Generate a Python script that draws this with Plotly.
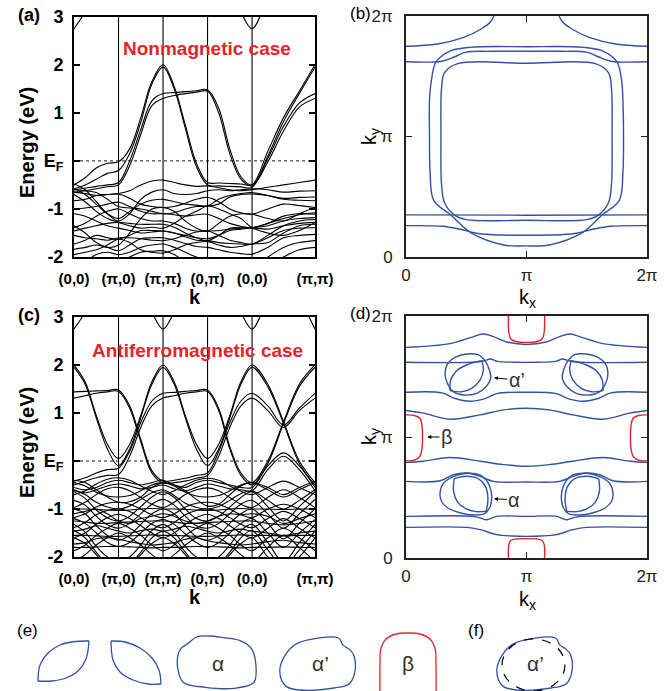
import plotly.graph_objects as go

W, H = 669, 691
FONT = "Liberation Sans, Arial, Helvetica, sans-serif"
BLUE = "#3252a6"
RED = "#e3242b"

# ---------------- band structure path ----------------
K_NODES = [0, 0.25, 0.5, 0.75, 1, 1.25, 1.5, 1.75, 2, 2.25, 2.5, 2.75, 3,
           3.25, 3.5, 3.75, 4, 4.354, 4.707, 5.061, 5.414]
K_TICKS = [0, 1, 2, 3, 4, 5.414]
K_LABELS = ["(0,0)", "(π,0)", "(π,π)", "(0,π)", "(0,0)", "(π,π)"]
E_TICKS = [-2, -1, 0, 1, 2, 3]
E_LABELS = ["-2", "-1", "E<sub>F</sub>", "1", "2", "3"]

# ---------------- (a) nonmagnetic bands ----------------
BANDS_A_TOP = [2.75, 3.1, 3.6, 4.0, 4.5, 4.5, 4.5, 4.5, 4.5, 4.5, 4.5, 4.5, 4.5,
               4.0, 3.6, 3.1, 2.75, 3.4, 4.0, 4.5, 4.5]
BANDS_A_UPPER = [
    [-0.5, -0.35, -0.15, -0.05, -0.02, 0.25, 0.9, 1.65, 2.0, 1.55, 0.75, -0.05, -0.45, -0.46, -0.47, -0.48, -0.5, 0.2, 0.9, 1.45, 2.0],
    [-0.58, -0.5, -0.38, -0.26, -0.2, 0.15, 0.8, 1.6, 1.95, 1.5, 0.68, -0.12, -0.5, -0.52, -0.53, -0.54, -0.55, 0.1, 0.82, 1.4, 1.95],
    [-0.6, -0.57, -0.53, -0.5, -0.45, 0.0, 0.65, 1.25, 1.4, 1.42, 1.44, 1.46, 1.48, 1.1, 0.25, -0.33, -0.5, 0.05, 0.72, 1.2, 1.4],
    [-0.65, -0.62, -0.58, -0.54, -0.5, -0.1, 0.55, 1.15, 1.3, 1.36, 1.4, 1.43, 1.45, 1.0, 0.15, -0.38, -0.52, -0.02, 0.62, 1.12, 1.3],
]
BANDS_A_LOWER = [
    [-0.65, -0.68, -0.72, -0.7, -0.68, -0.62, -0.5, -0.42, -0.4, -0.45, -0.5, -0.53, -0.52, -0.56, -0.6, -0.62, -0.6, -0.55, -0.5, -0.45, -0.4],
    [-0.48, -0.6, -0.85, -1.1, -1.25, -1.1, -0.8, -0.65, -0.6, -0.68, -0.7, -0.68, -0.62, -0.6, -0.62, -0.6, -0.58, -0.6, -0.65, -0.63, -0.62],
    [-0.58, -0.7, -0.9, -1.1, -1.2, -1.05, -0.9, -0.82, -0.8, -0.85, -0.9, -0.92, -0.94, -0.9, -0.75, -0.7, -0.69, -0.72, -0.8, -0.82, -0.83],
    [-0.83, -0.8, -0.72, -0.7, -0.69, -0.78, -0.9, -0.95, -0.97, -0.95, -0.88, -0.8, -0.76, -0.85, -1.0, -1.08, -1.11, -1.0, -0.9, -0.93, -0.97],
    [-1.0, -0.98, -0.95, -0.9, -0.86, -0.95, -1.05, -1.1, -1.1, -1.12, -1.15, -1.12, -1.11, -1.2, -1.3, -1.36, -1.39, -1.3, -1.15, -1.1, -1.11],
    [-1.39, -1.3, -1.15, -1.05, -1.0, -1.1, -1.2, -1.25, -1.25, -1.3, -1.4, -1.46, -1.46, -1.45, -1.42, -1.4, -1.39, -1.35, -1.25, -1.2, -1.18],
    [-1.46, -1.4, -1.35, -1.3, -1.28, -1.3, -1.32, -1.32, -1.32, -1.38, -1.5, -1.6, -1.66, -1.55, -1.4, -1.38, -1.39, -1.42, -1.35, -1.3, -1.28],
    [-1.73, -1.65, -1.55, -1.6, -1.63, -1.55, -1.45, -1.45, -1.46, -1.5, -1.58, -1.65, -1.66, -1.7, -1.72, -1.73, -1.73, -1.6, -1.45, -1.4, -1.39],
    [-1.84, -1.8, -1.75, -1.8, -1.87, -1.75, -1.62, -1.6, -1.6, -1.65, -1.72, -1.78, -1.8, -1.85, -1.9, -1.93, -1.94, -1.8, -1.6, -1.55, -1.53],
    [-2.2, -2.1, -1.95, -1.9, -1.95, -1.9, -1.8, -1.75, -1.73, -1.8, -1.9, -2.0, -2.05, -2.1, -2.15, -2.2, -2.2, -2.0, -1.8, -1.7, -1.66],
    [-2.4, -2.3, -2.2, -2.15, -2.1, -2.0, -1.9, -1.88, -1.87, -1.95, -2.1, -2.2, -2.3, -2.3, -2.3, -2.3, -2.3, -2.2, -2.0, -1.85, -1.8],
    [-1.35, -1.5, -1.7, -1.8, -1.75, -1.5, -1.2, -1.0, -0.97, -1.05, -1.25, -1.4, -1.46, -1.3, -1.15, -1.1, -1.11, -1.2, -1.25, -1.1, -0.97],
    [-0.7, -0.85, -1.05, -1.2, -1.28, -1.35, -1.4, -1.38, -1.4, -1.3, -1.15, -1.05, -0.94, -1.0, -1.1, -1.2, -1.39, -1.5, -1.55, -1.45, -1.28],
    [-1.1, -1.15, -1.25, -1.35, -1.4, -1.45, -1.5, -1.48, -1.46, -1.5, -1.55, -1.6, -1.62, -1.55, -1.45, -1.42, -1.39, -1.3, -1.2, -1.12, -1.08],
    [-1.55, -1.6, -1.62, -1.65, -1.6, -1.6, -1.62, -1.65, -1.66, -1.62, -1.55, -1.48, -1.46, -1.55, -1.65, -1.7, -1.73, -1.55, -1.35, -1.25, -1.22],
    [-0.6, -0.62, -0.66, -0.8, -0.95, -0.98, -1.0, -1.05, -1.1, -1.08, -1.0, -0.95, -0.94, -0.8, -0.72, -0.68, -0.66, -0.72, -0.78, -0.76, -0.75],
    [-1.95, -1.9, -1.85, -1.75, -1.63, -1.7, -1.85, -1.9, -1.92, -1.85, -1.75, -1.7, -1.68, -1.75, -1.8, -1.78, -1.73, -1.7, -1.5, -1.35, -1.32],
]

# ---------------- (c) antiferromagnetic bands ----------------
BANDS_C_TOP = [2.75, 3.1, 3.6, 4.0, 4.5, 4.0, 3.6, 3.1, 2.75, 3.1, 3.6, 4.0, 4.5,
               4.0, 3.6, 3.1, 2.75, 3.4, 4.0, 3.4, 2.75]
BANDS_C_UPPER = [
    [2.0, 1.65, 0.95, 0.35, 0.05, 0.35, 0.95, 1.65, 2.0, 1.65, 0.95, 0.35, 0.05, 0.35, 0.95, 1.65, 2.0, 1.6, 0.82, 0.0, -0.45],
    [1.95, 1.6, 0.9, 0.25, -0.1, 0.25, 0.9, 1.6, 1.95, 1.6, 0.9, 0.25, -0.1, 0.25, 0.9, 1.6, 1.95, 1.55, 0.78, -0.05, -0.5],
    [1.44, 1.45, 1.46, 1.47, 1.48, 1.15, 0.45, -0.2, -0.42, -0.4, -0.36, -0.3, -0.25, 0.2, 0.8, 1.25, 1.41, 1.15, 0.75, 1.1, 1.41],
    [1.31, 1.36, 1.41, 1.44, 1.45, 1.1, 0.4, -0.25, -0.46, -0.45, -0.42, -0.36, -0.3, 0.1, 0.7, 1.15, 1.31, 1.05, 0.7, 1.05, 1.31],
    [-0.42, -0.35, -0.25, -0.18, -0.15, 0.2, 0.8, 1.25, 1.41, 1.43, 1.45, 1.47, 1.48, 1.1, 0.3, -0.25, -0.45, 0.0, 0.82, 1.6, 2.0],
    [-0.5, -0.42, -0.35, -0.3, -0.28, 0.1, 0.7, 1.15, 1.31, 1.36, 1.41, 1.44, 1.45, 1.05, 0.25, -0.3, -0.5, -0.05, 0.78, 1.55, 1.95],
    [-0.55, -0.6, -0.55, -0.45, -0.4, -0.45, -0.5, -0.45, -0.4, -0.5, -0.55, -0.45, -0.4, -0.45, -0.5, -0.55, -0.55, -0.1, 0.17, -0.1, -0.55],
    [-0.62, -0.66, -0.6, -0.52, -0.48, -0.52, -0.58, -0.55, -0.5, -0.58, -0.62, -0.55, -0.48, -0.52, -0.58, -0.6, -0.62, -0.18, 0.1, -0.18, -0.62],
]
BANDS_C_LOWER = [
    [-0.45, -0.52, -0.65, -0.73, -0.75, -0.72, -0.62, -0.5, -0.45, -0.52, -0.65, -0.73, -0.75, -0.72, -0.62, -0.5, -0.45, -0.6, -0.75, -0.6, -0.45],
    [-0.6, -0.7, -0.86, -0.96, -1.0, -0.94, -0.8, -0.66, -0.6, -0.72, -0.88, -0.97, -1.0, -0.95, -0.82, -0.68, -0.62, -0.82, -1.0, -0.82, -0.6],
    [-0.64, -0.78, -1.02, -1.18, -1.25, -1.15, -0.95, -0.75, -0.64, -0.76, -1.0, -1.2, -1.25, -1.15, -0.96, -0.76, -0.64, -0.95, -1.25, -0.95, -0.64],
    [-0.82, -0.92, -1.15, -1.33, -1.4, -1.3, -1.1, -0.9, -0.8, -0.92, -1.15, -1.35, -1.4, -1.3, -1.1, -0.9, -0.82, -1.1, -1.4, -1.1, -0.8],
    [-1.0, -1.1, -1.35, -1.55, -1.65, -1.55, -1.32, -1.1, -1.0, -1.1, -1.35, -1.58, -1.65, -1.55, -1.3, -1.1, -1.0, -1.3, -1.62, -1.3, -1.0],
    [-1.2, -1.3, -1.5, -1.7, -1.78, -1.7, -1.5, -1.3, -1.22, -1.32, -1.52, -1.7, -1.8, -1.7, -1.5, -1.3, -1.2, -1.5, -1.8, -1.5, -1.22],
    [-1.32, -1.48, -1.78, -2.0, -2.1, -2.0, -1.75, -1.45, -1.32, -1.48, -1.78, -2.0, -2.1, -2.0, -1.75, -1.45, -1.32, -1.7, -2.1, -1.7, -1.32],
    [-1.45, -1.6, -1.9, -2.15, -2.25, -2.15, -1.9, -1.6, -1.46, -1.6, -1.9, -2.15, -2.25, -2.15, -1.9, -1.6, -1.45, -1.85, -2.2, -1.85, -1.46],
    [-1.6, -1.72, -1.95, -2.2, -2.3, -2.2, -1.95, -1.72, -1.6, -1.72, -1.95, -2.2, -2.3, -2.2, -1.95, -1.72, -1.6, -2.0, -2.3, -2.0, -1.6],
    [-0.7, -0.62, -0.48, -0.38, -0.35, -0.4, -0.52, -0.63, -0.7, -0.62, -0.5, -0.4, -0.36, -0.4, -0.52, -0.63, -0.7, -0.55, -0.42, -0.55, -0.7],
    [-0.97, -0.86, -0.7, -0.58, -0.55, -0.62, -0.76, -0.9, -0.97, -0.86, -0.7, -0.6, -0.56, -0.62, -0.76, -0.9, -0.97, -0.76, -0.6, -0.76, -0.97],
    [-1.18, -1.1, -0.96, -0.88, -0.86, -0.9, -1.0, -1.12, -1.18, -1.1, -0.96, -0.88, -0.86, -0.9, -1.0, -1.12, -1.18, -1.0, -0.9, -1.0, -1.18],
    [-1.39, -1.28, -1.12, -1.03, -1.0, -1.05, -1.18, -1.32, -1.39, -1.28, -1.12, -1.03, -1.0, -1.05, -1.18, -1.32, -1.39, -1.2, -1.05, -1.2, -1.39],
    [-1.6, -1.5, -1.32, -1.18, -1.11, -1.2, -1.35, -1.5, -1.6, -1.5, -1.32, -1.18, -1.11, -1.2, -1.35, -1.5, -1.6, -1.4, -1.2, -1.4, -1.6],
    [-1.87, -1.75, -1.55, -1.4, -1.3, -1.4, -1.55, -1.75, -1.87, -1.75, -1.55, -1.4, -1.3, -1.4, -1.55, -1.75, -1.87, -1.6, -1.4, -1.6, -1.87],
    [-2.1, -1.95, -1.75, -1.6, -1.5, -1.6, -1.75, -1.95, -2.1, -1.95, -1.75, -1.6, -1.5, -1.6, -1.75, -1.95, -2.1, -1.8, -1.55, -1.8, -2.1],
    [-1.0, -1.0, -1.01, -1.02, -1.03, -1.02, -1.0, -0.99, -1.0, -1.0, -1.01, -1.02, -1.03, -1.02, -1.0, -0.99, -1.0, -1.0, -1.01, -1.0, -1.0],
    [-1.55, -1.55, -1.56, -1.57, -1.57, -1.56, -1.55, -1.54, -1.55, -1.55, -1.56, -1.57, -1.57, -1.56, -1.55, -1.54, -1.55, -1.55, -1.56, -1.55, -1.55],
    [-1.8, -1.8, -1.79, -1.78, -1.78, -1.79, -1.8, -1.81, -1.8, -1.8, -1.79, -1.78, -1.78, -1.79, -1.8, -1.81, -1.8, -1.8, -1.79, -1.8, -1.8],
    [-1.25, -1.27, -1.3, -1.3, -1.28, -1.27, -1.26, -1.25, -1.25, -1.27, -1.3, -1.3, -1.28, -1.27, -1.26, -1.25, -1.25, -1.3, -1.33, -1.3, -1.25],
    [-0.4, -0.45, -0.6, -0.75, -0.86, -0.85, -0.75, -0.55, -0.45, -0.5, -0.62, -0.8, -0.94, -0.9, -0.7, -0.52, -0.45, -0.55, -0.7, -0.55, -0.42],
    [-1.1, -1.05, -1.0, -1.1, -1.25, -1.3, -1.2, -1.15, -1.1, -1.15, -1.25, -1.3, -1.25, -1.15, -1.1, -1.12, -1.1, -1.15, -1.3, -1.2, -1.1],
    [-1.46, -1.42, -1.35, -1.4, -1.46, -1.5, -1.45, -1.42, -1.46, -1.42, -1.36, -1.4, -1.46, -1.5, -1.45, -1.42, -1.46, -1.5, -1.55, -1.5, -1.46],
    [-1.73, -1.7, -1.62, -1.6, -1.63, -1.68, -1.72, -1.75, -1.73, -1.7, -1.63, -1.6, -1.66, -1.7, -1.73, -1.75, -1.73, -1.68, -1.65, -1.7, -1.73],
]

# ---------------- (b) nonmagnetic Fermi surface (units of pi) ----------------
FS_B_OUTER_X = [1.0, 1.19, 1.46, 1.63, 1.77, 1.80, 1.805, 1.80, 1.79, 1.75, 1.63, 1.47, 1.0, 0.53, 0.37, 0.25, 0.21, 0.195, 0.195, 0.20, 0.23, 0.37, 0.54, 0.81, 1.0]
FS_B_OUTER_Y = [0.092, 0.10, 0.20, 0.35, 0.47, 0.70, 1.0, 1.30, 1.46, 1.62, 1.71, 1.74, 1.745, 1.74, 1.71, 1.62, 1.46, 1.30, 1.0, 0.70, 0.47, 0.35, 0.20, 0.10, 0.092]
FS_B_INNER_X = [1.0, 1.5, 1.6, 1.68, 1.705, 1.71, 1.705, 1.68, 1.57, 1.0, 0.43, 0.32, 0.295, 0.29, 0.295, 0.32, 0.40, 0.5, 1.0]
FS_B_INNER_Y = [0.305, 0.31, 0.35, 0.45, 0.60, 1.0, 1.40, 1.53, 1.605, 1.608, 1.605, 1.53, 1.40, 1.0, 0.60, 0.45, 0.35, 0.31, 0.305]
FS_B_L2_X = [0, 0.3, 0.4, 0.5, 0.7, 1.0, 1.3, 1.5, 1.6, 1.7, 2.0]
FS_B_L2_Y = [1.62, 1.625, 1.66, 1.70, 1.707, 1.707, 1.707, 1.70, 1.66, 1.625, 1.62]
FS_B_ARC_L_X = [0, 0.26, 0.48, 0.62, 0.70, 0.73]
FS_B_ARC_L_Y = [1.749, 1.768, 1.823, 1.89, 1.95, 2.0]
FS_B_ARC_R_X = [2.0, 1.74, 1.52, 1.38, 1.30, 1.27]
FS_B_ARC_R_Y = [1.749, 1.768, 1.823, 1.89, 1.95, 2.0]
FS_B_L3_X = [0, 0.3, 0.45, 0.6, 0.8, 1.0, 1.2, 1.4, 1.55, 1.7, 2.0]
FS_B_L3_Y = [0.26, 0.255, 0.23, 0.195, 0.182, 0.18, 0.182, 0.195, 0.23, 0.255, 0.26]
FS_B_L4_X = [0, 1.0, 2.0]
FS_B_L4_Y = [0.35, 0.347, 0.35]

# ---------------- (d) antiferromagnetic Fermi surface (units of pi) ----------------
FS_D_B1_X = [0, 0.366, 0.56, 0.643, 0.726, 0.837, 1.0, 1.163, 1.274, 1.357, 1.44, 1.634, 2.0]
FS_D_B1_Y = [1.741, 1.772, 1.83, 1.851, 1.83, 1.785, 1.765, 1.785, 1.83, 1.851, 1.83, 1.772, 1.741]
FS_D_B2_X = [0, 0.55, 0.65, 0.70, 0.76, 0.9, 1.1, 1.24, 1.30, 1.35, 1.45, 2.0]
FS_D_B2_Y = [1.618, 1.618, 1.63, 1.645, 1.625, 1.618, 1.618, 1.625, 1.645, 1.63, 1.618, 1.618]
FS_D_B3_X = [0, 0.30, 0.40, 0.53, 0.65, 0.76, 1.0, 1.24, 1.35, 1.47, 1.60, 1.70, 2.0]
FS_D_B3_Y = [1.37, 1.365, 1.32, 1.295, 1.315, 1.36, 1.37, 1.36, 1.315, 1.295, 1.32, 1.365, 1.37]
FS_D_B4_X = [0, 0.144, 0.366, 0.615, 0.809, 1.0, 1.191, 1.385, 1.634, 1.856, 2.0]
FS_D_B4_Y = [1.219, 1.197, 1.147, 1.183, 1.224, 1.238, 1.224, 1.183, 1.147, 1.197, 1.219]
FS_D_B5_X = [0, 0.144, 0.366, 0.615, 0.809, 1.0, 1.191, 1.385, 1.634, 1.856, 2.0]
FS_D_B5_Y = [0.79, 0.80, 0.83, 0.80, 0.772, 0.758, 0.772, 0.80, 0.83, 0.80, 0.79]
FS_D_B6_X = [0, 0.283, 0.393, 0.504, 0.615, 0.726, 1.0, 1.274, 1.385, 1.496, 1.607, 1.717, 2.0]
FS_D_B6_Y = [0.633, 0.638, 0.688, 0.702, 0.674, 0.633, 0.628, 0.633, 0.674, 0.702, 0.688, 0.638, 0.633]
FS_D_B7_X = [0, 0.55, 0.62, 0.67, 0.75, 1.0, 1.25, 1.33, 1.38, 1.45, 2.0]
FS_D_B7_Y = [0.344, 0.344, 0.33, 0.316, 0.344, 0.344, 0.344, 0.316, 0.33, 0.344, 0.344]
FS_D_B8_X = [0, 0.504, 0.615, 0.753, 0.88, 1.0, 1.12, 1.247, 1.385, 1.496, 2.0]
FS_D_B8_Y = [0.253, 0.253, 0.234, 0.193, 0.182, 0.179, 0.182, 0.193, 0.234, 0.253, 0.253]

FS_D_RTOP_X = [0.85, 0.853, 0.87, 0.92, 1.0, 1.08, 1.13, 1.147, 1.15]
FS_D_RTOP_Y = [2.0, 1.87, 1.81, 1.787, 1.782, 1.787, 1.81, 1.87, 2.0]
FS_D_RBOT_X = [0.85, 0.853, 0.87, 0.92, 1.0, 1.08, 1.13, 1.147, 1.15]
FS_D_RBOT_Y = [0.0, 0.11, 0.145, 0.157, 0.16, 0.157, 0.145, 0.11, 0.0]
FS_D_RLEFT_X = [0, 0.07, 0.115, 0.133, 0.137, 0.133, 0.115, 0.07, 0]
FS_D_RLEFT_Y = [1.183, 1.178, 1.155, 1.09, 1.0, 0.91, 0.84, 0.808, 0.803]
FS_D_RRIGHT_X = [2.0, 1.93, 1.885, 1.867, 1.863, 1.867, 1.885, 1.93, 2.0]
FS_D_RRIGHT_Y = [1.183, 1.178, 1.155, 1.09, 1.0, 0.91, 0.84, 0.808, 0.803]

# alpha' pockets (upper)
FS_D_AP_L_BLOB_X = [0.324, 0.343, 0.407, 0.503, 0.60, 0.656, 0.692, 0.703, 0.664, 0.587, 0.476, 0.393, 0.343, 0.324]
FS_D_AP_L_BLOB_Y = [1.526, 1.603, 1.658, 1.686, 1.680, 1.631, 1.554, 1.485, 1.416, 1.361, 1.347, 1.374, 1.444, 1.526]
FS_D_AP_L_LENS1_X = [0.365, 0.371, 0.42, 0.503, 0.628]
FS_D_AP_L_LENS1_Y = [1.383, 1.471, 1.548, 1.595, 1.631]
FS_D_AP_L_LENS2_X = [0.365, 0.462, 0.545, 0.614, 0.642, 0.628]
FS_D_AP_L_LENS2_Y = [1.383, 1.374, 1.402, 1.471, 1.554, 1.631]
FS_D_AP_R_BLOB_X = [1.676, 1.657, 1.593, 1.497, 1.40, 1.344, 1.308, 1.297, 1.336, 1.413, 1.524, 1.607, 1.657, 1.676]
FS_D_AP_R_BLOB_Y = [1.526, 1.603, 1.658, 1.686, 1.680, 1.631, 1.554, 1.485, 1.416, 1.361, 1.347, 1.374, 1.444, 1.526]
FS_D_AP_R_LENS1_X = [1.635, 1.629, 1.58, 1.497, 1.372]
FS_D_AP_R_LENS1_Y = [1.383, 1.471, 1.548, 1.595, 1.631]
FS_D_AP_R_LENS2_X = [1.635, 1.538, 1.455, 1.386, 1.358, 1.372]
FS_D_AP_R_LENS2_Y = [1.383, 1.374, 1.402, 1.471, 1.554, 1.631]

# alpha pockets (lower)
FS_D_A_L_BLOB_X = [0.282, 0.31, 0.393, 0.503, 0.614, 0.683, 0.711, 0.697, 0.656, 0.559, 0.448, 0.351, 0.296, 0.282]
FS_D_A_L_BLOB_Y = [0.535, 0.617, 0.672, 0.70, 0.686, 0.617, 0.507, 0.424, 0.369, 0.355, 0.374, 0.411, 0.465, 0.535]
FS_D_A_L_LENS1_X = [0.40, 0.50, 0.60, 0.66, 0.68, 0.665]
FS_D_A_L_LENS1_Y = [0.655, 0.675, 0.655, 0.59, 0.49, 0.385]
FS_D_A_L_LENS2_X = [0.40, 0.395, 0.43, 0.50, 0.58, 0.665]
FS_D_A_L_LENS2_Y = [0.655, 0.55, 0.46, 0.405, 0.383, 0.385]
FS_D_A_R_BLOB_X = [1.718, 1.69, 1.607, 1.497, 1.386, 1.317, 1.289, 1.303, 1.344, 1.441, 1.552, 1.649, 1.704, 1.718]
FS_D_A_R_BLOB_Y = [0.535, 0.617, 0.672, 0.70, 0.686, 0.617, 0.507, 0.424, 0.369, 0.355, 0.374, 0.411, 0.465, 0.535]
FS_D_A_R_LENS1_X = [1.60, 1.50, 1.40, 1.34, 1.32, 1.335]
FS_D_A_R_LENS1_Y = [0.655, 0.675, 0.655, 0.59, 0.49, 0.385]
FS_D_A_R_LENS2_X = [1.60, 1.605, 1.57, 1.50, 1.42, 1.335]
FS_D_A_R_LENS2_Y = [0.655, 0.55, 0.46, 0.405, 0.383, 0.385]

# ---------------- (e), (f) isolated orbits (figure pixel frame) ----------------
E_LEAF1_A_X = [89, 75, 60, 48, 40, 38]
E_LEAF1_A_Y = [641, 641.5, 645, 653, 665, 681]
E_LEAF1_B_X = [38, 52, 66, 78, 86, 89]
E_LEAF1_B_Y = [681, 681, 678, 671, 659, 641]
E_LEAF2_A_X = [111, 125, 140, 152, 159, 161]
E_LEAF2_A_Y = [641, 642, 648, 658, 670, 684]
E_LEAF2_B_X = [161, 148, 133, 120, 113, 111]
E_LEAF2_B_Y = [684, 684, 680, 672, 660, 641]
E_ALPHA_X = [178, 181.1, 185.5, 189.9, 196.5, 209.7, 222.9, 240.6, 251.6, 256, 253.8, 234, 205.4, 183.3, 178, 178]
E_ALPHA_Y = [654.8, 648.3, 645.1, 641.9, 637, 636, 637.6, 640.8, 648.8, 666.5, 682.5, 688.3, 687.3, 682.5, 669.7, 654.8]
E_ALPHAP_X = [299.5, 338.5, 342.9, 349.4, 353.7, 355, 349.4, 334.2, 299.5, 286.5, 281.3, 280, 284.3, 290.8, 299.5]
E_ALPHAP_Y = [642.3, 638, 645.1, 649.4, 655.1, 670.9, 683.7, 688, 690, 686.6, 679.4, 668, 656.6, 648, 642.3]
E_BETA_X = [380, 380, 381, 386, 396, 408, 420, 430, 435, 436, 436]
E_BETA_Y = [700, 665, 648, 639, 634, 633, 634, 639, 648, 665, 700]
F_ALPHAP_X = [516.5, 555.5, 559.9, 566.4, 570.7, 572, 566.4, 551.2, 516.5, 503.5, 498.3, 497, 501.3, 507.8, 516.5]
F_ALPHAP_Y = [642.3, 638, 645.1, 649.4, 655.1, 670.9, 683.7, 688, 690, 686.6, 679.4, 668, 656.6, 648, 642.3]
F_CIRCLE_BOX = [502, 639, 565, 691]

fig = go.Figure()


def add_line(xs, ys, xa, ya, color="black", width=1.1, dash="solid"):
    fig.add_trace(go.Scatter(x=xs, y=ys, mode="lines", xaxis=xa, yaxis=ya,
                             line=dict(color=color, width=width, shape="spline", smoothing=1.0, dash=dash),
                             hoverinfo="skip", showlegend=False))


# band traces
for b in [BANDS_A_TOP] + BANDS_A_UPPER + BANDS_A_LOWER:
    add_line(K_NODES, b, "x", "y")
for b in [BANDS_C_TOP] + BANDS_C_UPPER + BANDS_C_LOWER:
    add_line(K_NODES, b, "x3", "y3")

# (b)
for xs, ys in [(FS_B_OUTER_X, FS_B_OUTER_Y), (FS_B_INNER_X, FS_B_INNER_Y), (FS_B_L2_X, FS_B_L2_Y),
               (FS_B_ARC_L_X, FS_B_ARC_L_Y), (FS_B_ARC_R_X, FS_B_ARC_R_Y), (FS_B_L3_X, FS_B_L3_Y),
               (FS_B_L4_X, FS_B_L4_Y)]:
    add_line(xs, ys, "x2", "y2", BLUE, 1.4)

# (d)
for xs, ys in [(FS_D_B1_X, FS_D_B1_Y), (FS_D_B2_X, FS_D_B2_Y), (FS_D_B3_X, FS_D_B3_Y), (FS_D_B4_X, FS_D_B4_Y),
               (FS_D_B5_X, FS_D_B5_Y), (FS_D_B6_X, FS_D_B6_Y), (FS_D_B7_X, FS_D_B7_Y), (FS_D_B8_X, FS_D_B8_Y),
               (FS_D_AP_L_BLOB_X, FS_D_AP_L_BLOB_Y), (FS_D_AP_L_LENS1_X, FS_D_AP_L_LENS1_Y),
               (FS_D_AP_L_LENS2_X, FS_D_AP_L_LENS2_Y), (FS_D_AP_R_BLOB_X, FS_D_AP_R_BLOB_Y),
               (FS_D_AP_R_LENS1_X, FS_D_AP_R_LENS1_Y), (FS_D_AP_R_LENS2_X, FS_D_AP_R_LENS2_Y),
               (FS_D_A_L_BLOB_X, FS_D_A_L_BLOB_Y), (FS_D_A_L_LENS1_X, FS_D_A_L_LENS1_Y),
               (FS_D_A_L_LENS2_X, FS_D_A_L_LENS2_Y), (FS_D_A_R_BLOB_X, FS_D_A_R_BLOB_Y),
               (FS_D_A_R_LENS1_X, FS_D_A_R_LENS1_Y), (FS_D_A_R_LENS2_X, FS_D_A_R_LENS2_Y)]:
    add_line(xs, ys, "x4", "y4", BLUE, 1.4)
for xs, ys in [(FS_D_RTOP_X, FS_D_RTOP_Y), (FS_D_RBOT_X, FS_D_RBOT_Y),
               (FS_D_RLEFT_X, FS_D_RLEFT_Y), (FS_D_RRIGHT_X, FS_D_RRIGHT_Y)]:
    add_line(xs, ys, "x4", "y4", RED, 1.4)

# (e), (f)
for xs, ys in [(E_LEAF1_A_X, E_LEAF1_A_Y), (E_LEAF1_B_X, E_LEAF1_B_Y), (E_LEAF2_A_X, E_LEAF2_A_Y),
               (E_LEAF2_B_X, E_LEAF2_B_Y), (E_ALPHA_X, E_ALPHA_Y), (E_ALPHAP_X, E_ALPHAP_Y),
               (F_ALPHAP_X, F_ALPHAP_Y)]:
    add_line(xs, ys, "x5", "y5", BLUE, 1.3)
add_line(E_BETA_X, E_BETA_Y, "x5", "y5", RED, 1.3)


def dom_x(p0, p1):
    return [p0 / W, p1 / W]


def dom_y(p_top, p_bot):
    return [1 - p_bot / H, 1 - p_top / H]


def band_xaxis(anchor):
    return dict(domain=dom_x(74, 315), range=[0, 5.414], tickmode="array", tickvals=K_TICKS,
                ticktext=["<b>%s</b>" % t for t in K_LABELS], ticks="", showgrid=False, zeroline=False,
                showline=True, linecolor="black", linewidth=2, mirror=True,
                tickfont=dict(size=15, family=FONT, color="black"), ticklabelstandoff=7, anchor=anchor)


def band_yaxis(dom, anchor):
    return dict(domain=dom, range=[-2, 3], tickmode="array", tickvals=E_TICKS,
                ticktext=["<b>%s</b>" % t for t in E_LABELS], ticks="inside", ticklen=6, tickwidth=1.5,
                tickcolor="black", mirror="ticks", showline=True, linecolor="black", linewidth=2,
                showgrid=False, zeroline=False, tickfont=dict(size=18, family=FONT, color="black"),
                ticklabelstandoff=5, anchor=anchor)


def fs_axis(dom, anchor, is_x):
    return dict(domain=dom, range=[0, 2], tickmode="array", tickvals=[0, 1, 2], ticktext=["0", "π", "2π"],
                ticks="inside", ticklen=6, tickwidth=1.2, tickcolor="#222", mirror="ticks", showline=True,
                linecolor="#222", linewidth=1.8, showgrid=False, zeroline=False,
                tickfont=dict(size=17, family=FONT, color="#222"), ticklabelstandoff=2 if is_x else 8,
                anchor=anchor)


fig.update_layout(
    width=W, height=H, margin=dict(l=0, r=0, t=0, b=0, pad=0, autoexpand=False),
    paper_bgcolor="white", plot_bgcolor="white", showlegend=False,
    font=dict(family=FONT, color="black"),
    xaxis=band_xaxis("y"),
    yaxis=band_yaxis(dom_y(16.7, 257), "x"),
    xaxis3=band_xaxis("y3"),
    yaxis3=band_yaxis(dom_y(317, 557), "x3"),
    xaxis2=fs_axis(dom_x(406, 647), "y2", True),
    yaxis2=fs_axis(dom_y(16, 257), "x2", False),
    xaxis4=fs_axis(dom_x(406, 647), "y4", True),
    yaxis4=fs_axis(dom_y(316, 558), "x4", False),
    xaxis5=dict(domain=[0, 1], range=[0, W], visible=False, anchor="y5"),
    yaxis5=dict(domain=[0, 86.4 / H], range=[691, 604.6], visible=False, anchor="x5"),
)

shapes = []
for xa, ya in [("x", "y"), ("x3", "y3")]:
    for k in K_TICKS[1:-1]:
        shapes.append(dict(type="line", xref=xa, yref=ya + " domain", x0=k, x1=k, y0=0, y1=1,
                           line=dict(color="black", width=1.1)))
    shapes.append(dict(type="line", xref=xa + " domain", yref=ya, x0=0, x1=1, y0=0, y1=0,
                       line=dict(color="black", width=0.9, dash="dot")))
shapes.append(dict(type="circle", xref="x5", yref="y5", x0=F_CIRCLE_BOX[0], y0=F_CIRCLE_BOX[1],
                   x1=F_CIRCLE_BOX[2], y1=F_CIRCLE_BOX[3], line=dict(color="black", width=1.2, dash="dash")))
fig.update_layout(shapes=shapes)

anns = []


def ann(text, px, py, size, color="black", angle=0):
    anns.append(dict(text=text, x=px / W, y=1 - py / H, xref="paper", yref="paper", showarrow=False,
                     xanchor="center", yanchor="middle", textangle=angle,
                     font=dict(size=size, family=FONT, color=color)))


ann("<b>(a)</b>", 29, 15, 18)
ann("<b>(c)</b>", 29, 315, 18)
ann("<b>Nonmagnetic case</b>", 207, 48, 19, RED)
ann("<b>Antiferromagnetic case</b>", 197, 350, 19, RED)
ann("<b>Energy (eV)</b>", 27, 143, 20, angle=-90)
ann("<b>Energy (eV)</b>", 27, 443, 20, angle=-90)
ann("<b>k</b>", 195, 297, 20)
ann("<b>k</b>", 195, 597, 20)
ann("(b)", 360, 14, 17)
ann("(d)", 360, 314, 17)
ann("k<sub>y</sub>", 371, 137, 20, angle=-90)
ann("k<sub>y</sub>", 371, 437, 20, angle=-90)
ann("k<sub>x</sub>", 527, 299, 20)
ann("k<sub>x</sub>", 527, 600, 20)
ann("(e)", 27, 630, 17)
ann("(f)", 476, 630, 17)
ann("α", 218, 663, 21, "#333")
ann("α’", 320, 663, 21, "#333")
ann("β", 408, 663, 21, "#333")
ann("α’", 535, 663, 21, "#333")


def arrow_ann(text, tip_x, tip_y, txt_x, txt_y):
    anns.append(dict(text=text, x=tip_x, y=tip_y, ax=txt_x, ay=txt_y, xref="x4", yref="y4", axref="x4",
                     ayref="y4", showarrow=True, arrowhead=2, arrowsize=0.8, arrowwidth=1, arrowcolor="black",
                     font=dict(size=20, family=FONT, color="#333")))


arrow_ann("α’", 0.73, 1.49, 0.92, 1.47)
arrow_ann("β", 0.177, 1.0, 0.34, 1.0)
arrow_ann("α", 0.73, 0.49, 0.90, 0.48)
fig.update_layout(annotations=anns)

fig.write_html("out.html", config={"displayModeBar": False},
               post_script="document.body.style.margin='0';document.body.style.overflow='hidden';")
